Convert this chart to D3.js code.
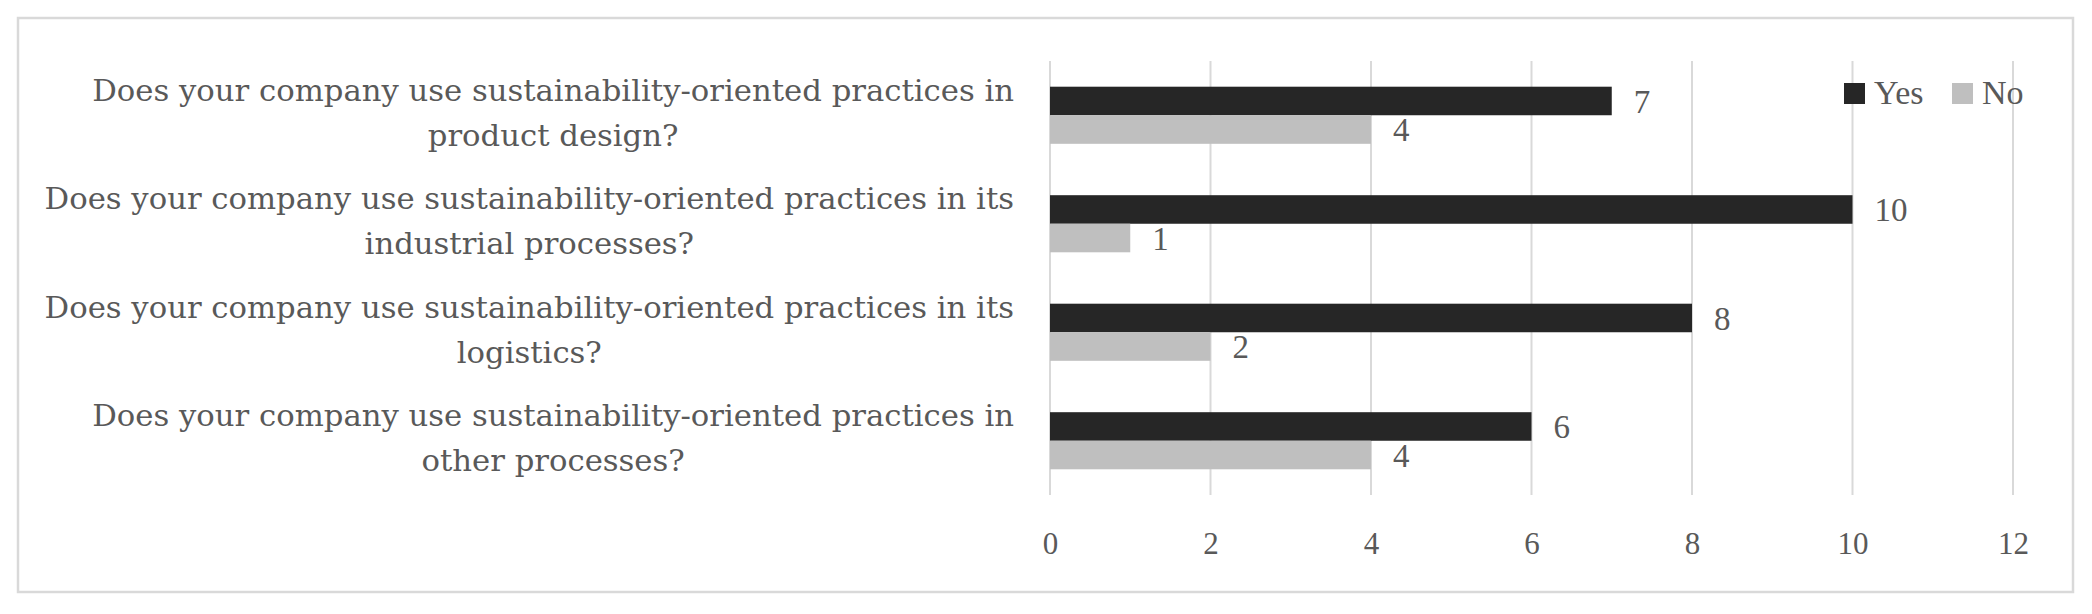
<!DOCTYPE html>
<html>
<head>
<meta charset="utf-8">
<script src="https://cdn.jsdelivr.net/npm/d3@7"></script>
<style>
  body { margin: 0; background: #fff; }
  text { font-family: "Liberation Serif", "DejaVu Serif", serif; fill: #595959; }
</style>
</head>
<body>
<div id="chart"></div>
<script>
// Data
let categories = [
  ["Does your company use sustainability-oriented practices in", "product design?"],
  ["Does your company use sustainability-oriented practices in its", "industrial processes?"],
  ["Does your company use sustainability-oriented practices in its", "logistics?"],
  ["Does your company use sustainability-oriented practices in", "other processes?"]
];
let seriesNames = ["Yes", "No"];
let yesValues = [7, 10, 8, 6];
let noValues = [4, 1, 2, 4];
let tickValues = [0, 2, 4, 6, 8, 10, 12];

let width = 2092;
let height = 614;
let colors = { Yes: "#262626", No: "#bfbfbf" };

let svg = d3.select("#chart").append("svg")
  .attr("width", width)
  .attr("height", height);

// chart border
svg.append("rect")
  .attr("x", 18).attr("y", 18)
  .attr("width", 2055).attr("height", 574)
  .attr("fill", "#fff")
  .attr("stroke", "#d9d9d9")
  .attr("stroke-width", 2.5);

let x = d3.scaleLinear().domain([0, 12]).range([1050, 2013]);

let catIdx = categories.map(function(_, i) { return i; });
let y0 = d3.scaleBand().domain(catIdx).range([61, 495]).padding(0);
let y1 = d3.scaleBand().domain(seriesNames).range([0, y0.bandwidth()]).paddingInner(0).paddingOuter(0.9);

// gridlines
svg.append("g").selectAll("line")
  .data(tickValues)
  .enter().append("line")
  .attr("x1", function(d) { return x(d); })
  .attr("x2", function(d) { return x(d); })
  .attr("y1", 61)
  .attr("y2", 495)
  .attr("stroke", "#d9d9d9")
  .attr("stroke-width", 2);

// x axis labels
let axis = svg.append("g")
  .attr("transform", "translate(0,495)")
  .call(d3.axisBottom(x).tickValues(tickValues).tickSize(0).tickFormat(d3.format("d")));
axis.select(".domain").remove();
axis.selectAll("text")
  .attr("y", 59)
  .attr("dy", 0)
  .style("font-size", "31px")
  .style("font-family", "'Liberation Serif', serif")
  .attr("fill", "#595959");

// rows
let rows = catIdx.map(function(i) {
  return [
    { key: "Yes", value: yesValues[i], cat: i },
    { key: "No", value: noValues[i], cat: i }
  ];
});

let groups = svg.selectAll(".cat")
  .data(rows)
  .enter().append("g")
  .attr("class", "cat")
  .attr("transform", function(d, i) { return "translate(0," + y0(i) + ")"; });

groups.selectAll("rect")
  .data(function(d) { return d; })
  .enter().append("rect")
  .attr("x", x(0))
  .attr("y", function(d) { return y1(d.key); })
  .attr("width", function(d) { return x(d.value) - x(0); })
  .attr("height", y1.bandwidth())
  .attr("fill", function(d) { return colors[d.key]; });

groups.selectAll("text.val")
  .data(function(d) { return d; })
  .enter().append("text")
  .attr("class", "val")
  .attr("x", function(d) { return x(d.value) + 22; })
  .attr("y", function(d) { return y1(d.key) + y1.bandwidth() / 2; })
  .attr("dy", "0.35em")
  .style("font-size", "33px")
  .text(function(d) { return d.value; });

// category labels: lines centred on each other, block right edge at 1014
let labelRight = 1014;
let labels = svg.selectAll(".catlabel")
  .data(categories)
  .enter().append("text")
  .attr("class", "catlabel")
  .style("font-family", "'DejaVu Serif', serif")
  .style("font-size", "30.7px")
  .attr("text-anchor", "middle");

labels.each(function(lines, i) {
  let t = d3.select(this);
  let c = y0(i) + y0.bandwidth() / 2;
  lines.forEach(function(line, j) {
    t.append("tspan")
      .attr("y", c - 14.5 + j * 45)
      .text(line);
  });
  let maxW = 0;
  t.selectAll("tspan").each(function() {
    maxW = Math.max(maxW, this.getComputedTextLength());
  });
  t.selectAll("tspan").attr("x", labelRight - maxW / 2);
});

// legend
let legend = svg.selectAll(".legend")
  .data(seriesNames)
  .enter().append("g")
  .attr("class", "legend")
  .attr("transform", function(d, i) { return "translate(" + (1844 + i * 108) + ",83)"; });

legend.append("rect")
  .attr("width", 21)
  .attr("height", 21)
  .attr("fill", function(d) { return colors[d]; });

legend.append("text")
  .attr("x", 30)
  .attr("y", 21)
  .style("font-size", "34px")
  .text(function(d) { return d; });
</script>
</body>
</html>
